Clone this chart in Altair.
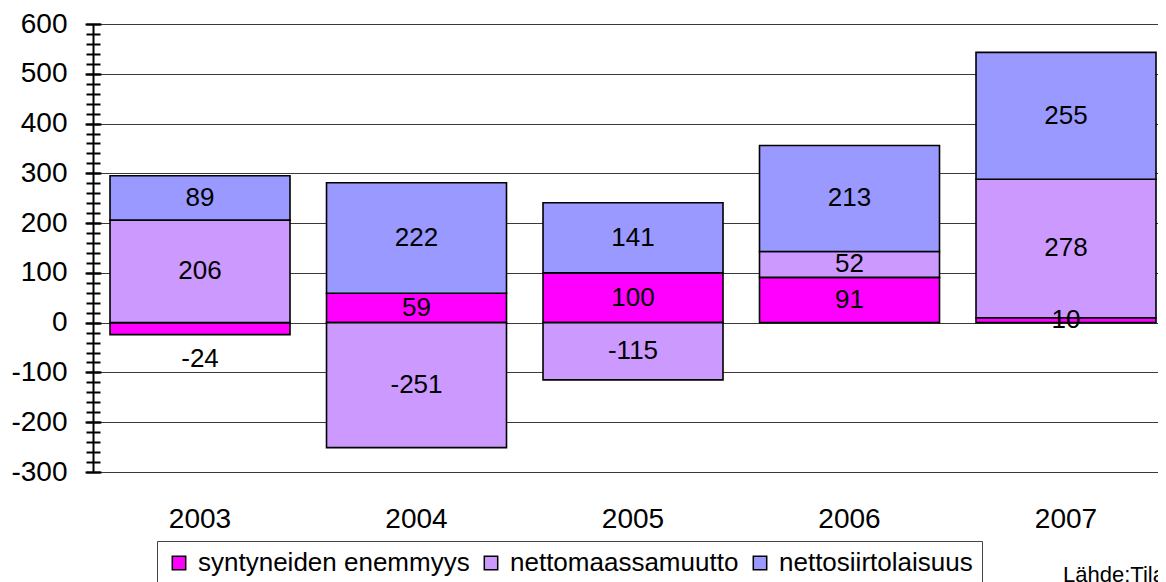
import altair as alt
import pandas as pd

years = ["2003", "2004", "2005", "2006", "2007"]
series = ["syntyneiden enemmyys", "nettomaassamuutto", "nettosiirtolaisuus"]
syntyneiden = [-24, 59, 100, 91, 10]
nettomaassa = [206, -251, -115, 52, 278]
nettosiirto = [89, 222, 141, 213, 255]
colors = ["#FF00FF", "#CC99FF", "#9999FF"]
major_ticks = list(range(-300, 601, 100))
minor_ticks = list(range(-300, 601, 20))
source_note = "Lähde:Tilastokeskus"

rows = []
for vals, s_i in zip([syntyneiden, nettomaassa, nettosiirto], range(3)):
    for y, v in zip(years, vals):
        rows.append({"year": y, "series": series[s_i], "order": s_i, "value": v})
df = pd.DataFrame(rows)

FONT = "Liberation Sans"

base = alt.Chart(df).transform_stack(
    stack="value", groupby=["year"], as_=["v0", "v1"],
    sort=[alt.SortField("order", order="ascending")]
).transform_calculate(
    labely="(datum.value < 0 && datum.value > -40) ? datum.v1 - 48 : (datum.v0 + datum.v1) / 2",
    labeltxt="'' + datum.value",
)

yscale = alt.Scale(domain=[-300, 600], nice=False, zero=False)
xscale = alt.Scale(domain=years, paddingInner=0.1686, paddingOuter=0.0439, align=0.895)
xaxis = alt.Axis(title=None, ticks=False, domain=False, labelAngle=0,
                 labelFontSize=28, labelFont=FONT, labelColor="black",
                 labelPadding=33, labelBaseline="top")

bars = base.mark_bar(stroke="black", strokeWidth=1.6).encode(
    x=alt.X("year:N", scale=xscale, sort=years, axis=xaxis),
    y=alt.Y("v0:Q", scale=yscale,
            axis=alt.Axis(title=None, orient="left", values=major_ticks, grid=True,
                          gridColor="#3a3a3a", gridWidth=1, ticks=False, tickSize=0,
                          labelPadding=26, labelFontSize=28, labelFont=FONT,
                          labelColor="black", labelExpr="'' + datum.value",
                          domain=True, domainColor="black", domainWidth=2)),
    y2="v1:Q",
    color=alt.Color("series:N", scale=alt.Scale(domain=series, range=colors),
                    legend=alt.Legend(title=None, orient="none", direction="horizontal",
                                      legendX=64, legendY=517, strokeColor="#444",
                                      fillColor="white", padding=9,
                                      symbolType="square", symbolSize=180,
                                      symbolStrokeColor="black", symbolStrokeWidth=1.5,
                                      symbolOpacity=1,
                                      labelFontSize=26, labelFont=FONT, labelColor="black",
                                      columnPadding=8, labelLimit=400, labelOffset=6)),
    order=alt.Order("order:Q"),
)

major_layer = base.mark_point(opacity=0).encode(
    x=alt.X("year:N", scale=xscale, sort=years, axis=xaxis),
    y=alt.Y("v1:Q", scale=yscale,
            axis=alt.Axis(title=None, orient="left", values=major_ticks, labels=False,
                          domain=False, grid=False, ticks=True, tickSize=16, offset=-8,
                          tickColor="black", tickWidth=2)),
)
minor_layer = base.mark_point(opacity=0).encode(
    x=alt.X("year:N", scale=xscale, sort=years, axis=xaxis),
    y=alt.Y("v1:Q", scale=yscale,
            axis=alt.Axis(title=None, orient="left", values=minor_ticks, labels=False,
                          domain=False, grid=False, ticks=True, tickSize=14, offset=-7,
                          tickColor="black", tickWidth=2)),
)

labels = base.mark_text(font=FONT, fontSize=26, color="black", baseline="middle").encode(
    x=alt.X("year:N", scale=xscale, sort=years, axis=xaxis),
    y=alt.Y("labely:Q", scale=yscale, axis=None),
    text=alt.Text("labeltxt:N"),
)

note = alt.Chart(pd.DataFrame({"t": [source_note]})).mark_text(
    font=FONT, fontSize=22, color="black", align="left", baseline="alphabetic"
).encode(x=alt.value(970), y=alt.value(558), text="t:N")

chart = alt.layer(bars, major_layer, minor_layer, labels, note).resolve_axis(
    y="independent"
).properties(
    width=1065, height=448, autosize="none",
    padding={"left": 85, "top": 16, "right": 0, "bottom": 110},
).configure_view(stroke=None)

chart.save("out.html", embed_options={"renderer": "svg", "actions": False})
